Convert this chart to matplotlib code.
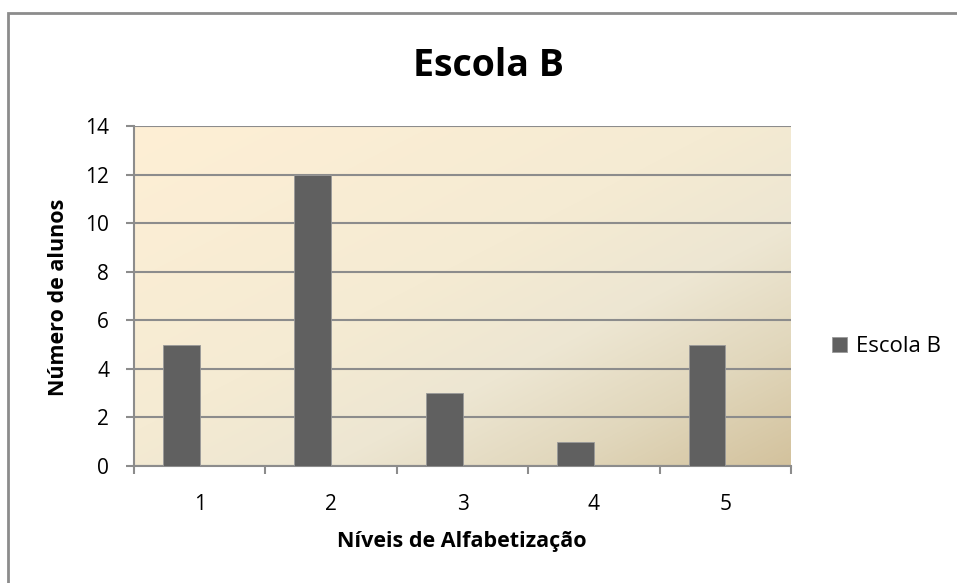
import numpy as np
import matplotlib
matplotlib.use("Agg")
import matplotlib.pyplot as plt
from matplotlib.colors import LinearSegmentedColormap
from matplotlib.patches import Rectangle

niveis = ["1", "2", "3", "4", "5"]
alunos = [5, 12, 3, 1, 5]
serie = "Escola B"

plt.rcParams['font.family'] = ['Open Sans', 'DejaVu Sans']

W, H = 957, 583
fig = plt.figure(figsize=(W / 100, H / 100), dpi=100)

# outer chart border (right / bottom edges fall outside the picture)
fig.patches.append(Rectangle((8 / W, -10 / H), 1.0, (H - 13 + 10) / H,
                             transform=fig.transFigure, fill=False,
                             edgecolor="#8c8c8c", linewidth=2))

ax = fig.add_axes([134 / W, (H - 466) / H, 657 / W, 340 / H])

# gradient background (top-left peach -> bottom-right tan)
cmap = LinearSegmentedColormap.from_list(
    "bg", [(0, "#feefd5"), (0.45, "#f5ebd3"), (0.65, "#ede6d2"),
           (0.82, "#e1d7bc"), (1, "#d3c29d")])
gx, gy = np.meshgrid(np.linspace(0, 1, 400), np.linspace(0, 1, 400))
grad = (gx + gy) / 2
ax.imshow(grad, cmap=cmap, extent=[0.5, 5.5, 0, 14], aspect="auto",
          origin="upper", zorder=0)

x = np.arange(1, len(niveis) + 1)
ax.bar(x - 0.14, alunos, width=0.28, color="#606060", edgecolor="#9a9a9a",
       linewidth=0.6, zorder=3, label=serie)

ax.set_xlim(0.5, 5.5)
ax.set_ylim(0, 14)
ax.set_yticks(range(0, 15, 2))
ax.set_xticks(x)
ax.set_xticklabels(niveis)
ax.set_xticks(np.arange(0.5, 6, 1), minor=True)
ax.tick_params(axis="x", which="major", length=0, pad=20, labelsize=15)
ax.tick_params(axis="x", which="minor", length=6, color="#8c8c8c", width=1.5)
ax.tick_params(axis="y", length=6, color="#8c8c8c", width=1.5, labelsize=15, pad=12)
ax.grid(axis="y", color="#8c8c8c", linewidth=1.5, zorder=1)

for s in ["top", "right"]:
    ax.spines[s].set_visible(False)
for s in ["left", "bottom"]:
    ax.spines[s].set_color("#8c8c8c")
    ax.spines[s].set_linewidth(1.5)

fig.text(488 / W, 1 - 66 / H, "Escola B", fontsize=27, fontweight="bold",
         ha="center", va="center")
fig.text(462 / W, 1 - 541 / H, "Níveis de Alfabetização", fontsize=15.5,
         fontweight="bold", ha="center", va="center")
fig.text(59 / W, 1 - 297 / H, "Número de alunos", fontsize=15.5,
         fontweight="bold", ha="center", va="center", rotation=90)

ax.legend(loc="center left", bbox_to_anchor=(1.063, 0.35), frameon=False,
          fontsize=16, handlelength=0.65, handleheight=0.65, handletextpad=0.4,
          borderpad=0, borderaxespad=0)

fig.savefig("out.png", dpi=100)
